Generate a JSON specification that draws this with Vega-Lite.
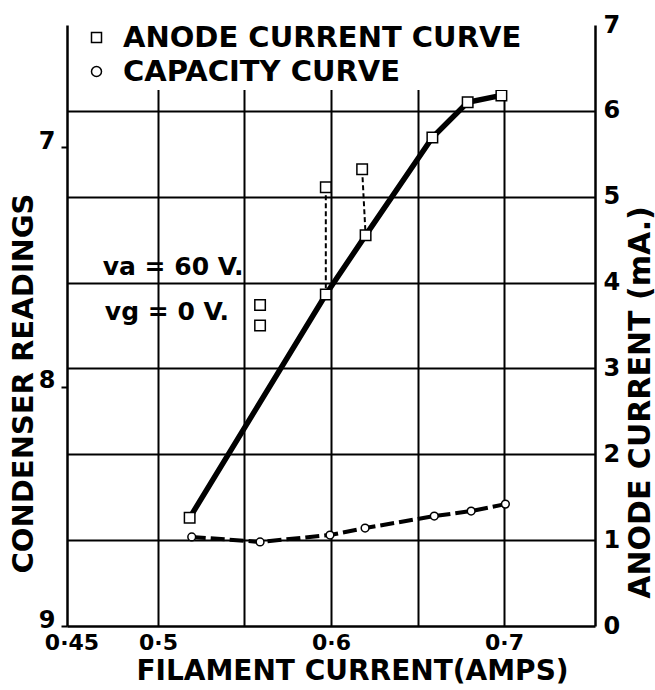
{
  "$schema": "https://vega.github.io/schema/vega-lite/v6.json",
  "width": 528,
  "height": 601,
  "autosize": {"type": "none"},
  "padding": {"left": 67, "top": 25, "right": 60, "bottom": 64},
  "background": "white",
  "config": {
    "view": {"stroke": null},
    "font": "DejaVu Sans",
    "axis": {
      "labelFont": "DejaVu Sans",
      "labelFontWeight": "bold",
      "labelColor": "black",
      "titleColor": "black",
      "titleFont": "DejaVu Sans",
      "titleFontWeight": "bold",
      "domainColor": "black",
      "domainWidth": 2.5,
      "tickColor": "black",
      "tickWidth": 2,
      "gridOpacity": 1,
      "gridWidth": 2
    }
  },
  "datasets": {
    "capacity": [
      {"f": 0.5195, "reading": 8.628, "curve": "CAPACITY CURVE"},
      {"f": 0.559, "reading": 8.649, "curve": "CAPACITY CURVE"},
      {"f": 0.5994, "reading": 8.62, "curve": "CAPACITY CURVE"},
      {"f": 0.6197, "reading": 8.591, "curve": "CAPACITY CURVE"},
      {"f": 0.6597, "reading": 8.541, "curve": "CAPACITY CURVE"},
      {"f": 0.681, "reading": 8.52, "curve": "CAPACITY CURVE"},
      {"f": 0.7008, "reading": 8.491, "curve": "CAPACITY CURVE"}
    ],
    "anode": [
      {"f": 0.5183, "ma": 1.26, "role": "main", "seg": null, "curve": "ANODE CURRENT CURVE"},
      {"f": 0.559, "ma": 3.74, "role": "extra", "seg": null, "curve": "ANODE CURRENT CURVE"},
      {"f": 0.559, "ma": 3.5, "role": "extra", "seg": null, "curve": "ANODE CURRENT CURVE"},
      {"f": 0.597, "ma": 5.11, "role": "extra", "seg": "a", "curve": "ANODE CURRENT CURVE"},
      {"f": 0.597, "ma": 3.86, "role": "main", "seg": "a", "curve": "ANODE CURRENT CURVE"},
      {"f": 0.618, "ma": 5.32, "role": "extra", "seg": "b", "curve": "ANODE CURRENT CURVE"},
      {"f": 0.62, "ma": 4.55, "role": "main", "seg": "b", "curve": "ANODE CURRENT CURVE"},
      {"f": 0.6586, "ma": 5.69, "role": "main", "seg": null, "curve": "ANODE CURRENT CURVE"},
      {"f": 0.679, "ma": 6.1, "role": "main", "seg": null, "curve": "ANODE CURRENT CURVE"},
      {"f": 0.6985, "ma": 6.18, "role": "main", "seg": null, "curve": "ANODE CURRENT CURVE"}
    ],
    "notes": [
      {"f": 0.5087, "ma": 4.18, "label": "va = 60 V."},
      {"f": 0.5052, "ma": 3.66, "label": "vg = 0 V."}
    ]
  },
  "encoding": {
    "x": {
      "field": "f",
      "type": "quantitative",
      "scale": {"domain": [0.4474, 0.7526], "nice": false, "zero": false},
      "axis": {
        "values": [0.45, 0.5, 0.55, 0.6, 0.65, 0.7],
        "labelExpr": "(datum.value > 0.54 && datum.value < 0.56) || (datum.value > 0.64 && datum.value < 0.66) ? '' : replace(format(datum.value, '.2~f'), '.', '·')",
        "labelFontSize": 22,
        "labelPadding": 6,
        "ticks": false,
        "grid": true,
        "gridColor": {"condition": {"test": "datum.value < 0.47", "value": "rgba(0,0,0,0)"}, "value": "black"},
        "title": "FILAMENT  CURRENT(AMPS)",
        "titleFontSize": 28,
        "titleX": 285,
        "titleY": 45,
        "titleAlign": "center",
        "titleBaseline": "middle"
      }
    }
  },
  "layer": [
    {
      "data": {"name": "capacity"},
      "encoding": {
        "y": {
          "field": "reading",
          "type": "quantitative",
          "scale": {"domain": [6.49, 9], "reverse": true, "nice": false, "zero": false},
          "axis": {
            "orient": "left",
            "values": [7, 8, 9],
            "labelFontSize": 24,
            "labelPadding": 6,
            "labelOffset": -6,
            "tickSize": 6,
            "grid": false,
            "title": "CONDENSER READINGS",
            "titleFontSize": 29,
            "titleAngle": 270,
            "titleX": -44,
            "titleY": 358,
            "titleAlign": "center",
            "titleBaseline": "middle"
          }
        }
      },
      "layer": [
        {
          "mark": {"type": "line", "color": "black", "strokeWidth": 4, "strokeDash": [14, 5]},
          "encoding": {}
        },
        {
          "mark": {"type": "point", "filled": false, "fill": "white", "color": "black", "strokeWidth": 1.5, "size": 60, "opacity": 1},
          "encoding": {
            "shape": {
              "field": "curve",
              "type": "nominal",
              "scale": {"domain": ["ANODE CURRENT CURVE", "CAPACITY CURVE"], "range": ["square", "circle"]},
              "legend": {
                "orient": "none",
                "legendX": 12,
                "legendY": -5,
                "title": null,
                "labelFontSize": 29,
                "labelFontWeight": "bold",
                "labelFont": "DejaVu Sans",
                "labelColor": "black",
                "labelLimit": 0,
                "labelOffset": 12,
                "rowPadding": 4,
                "padding": 3,
                "fillColor": "white"
              }
            }
          }
        }
      ]
    },
    {
      "encoding": {
        "y": {
          "field": "ma",
          "type": "quantitative",
          "scale": {"domain": [0, 7], "nice": false, "zero": false},
          "axis": {
            "orient": "right",
            "values": [0, 1, 2, 3, 4, 5, 6, 7],
            "labelFontSize": 24,
            "labelPadding": 8,
            "ticks": false,
            "grid": true,
            "gridColor": {"condition": {"test": "datum.value > 6.5 || datum.value < 0.5", "value": "rgba(0,0,0,0)"}, "value": "black"},
            "title": "ANODE CURRENT (mA.)",
            "titleFontSize": 30,
            "titleAngle": 270,
            "titleX": 45,
            "titleY": 377,
            "titleAlign": "center",
            "titleBaseline": "middle"
          }
        }
      },
      "layer": [
        {
          "data": {"name": "anode"},
          "transform": [{"filter": "datum.role === 'main'"}],
          "mark": {"type": "line", "color": "black", "strokeWidth": 5.5},
          "encoding": {}
        },
        {
          "data": {"name": "anode"},
          "transform": [{"filter": "datum.seg != null"}],
          "mark": {"type": "line", "color": "black", "strokeWidth": 2, "strokeDash": [5, 3]},
          "encoding": {"detail": {"field": "seg", "type": "nominal"}}
        },
        {
          "data": {"name": "anode"},
          "mark": {"type": "point", "filled": false, "fill": "white", "color": "black", "strokeWidth": 1.5, "size": 110, "opacity": 1},
          "encoding": {"shape": {"field": "curve", "type": "nominal"}}
        },
        {
          "data": {"name": "notes"},
          "mark": {"type": "text", "fontSize": 25, "fontWeight": "bold", "font": "DejaVu Sans", "align": "center", "baseline": "middle", "color": "black"},
          "encoding": {"text": {"field": "label", "type": "nominal"}}
        }
      ]
    }
  ],
  "resolve": {"scale": {"y": "independent"}, "axis": {"y": "independent"}}
}
